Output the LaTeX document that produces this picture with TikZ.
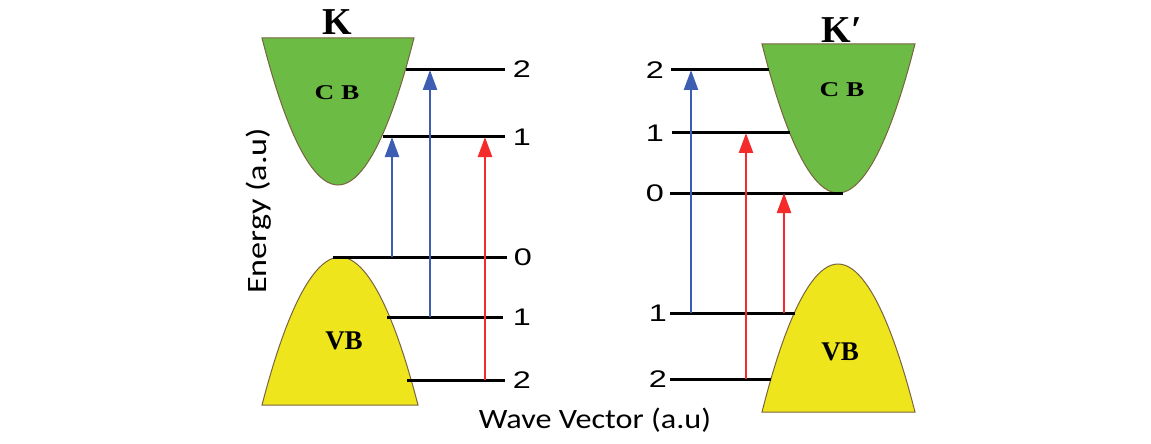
\documentclass[tikz,border=0pt]{standalone}
\usepackage{fontspec}
\setmainfont{Liberation Sans}
\newfontfamily\digitfont[FakeStretch=1.35]{Liberation Sans}
\newfontfamily\valleyfont{Liberation Serif Bold}
\newfontfamily\cbfont[FakeStretch=1.3]{Liberation Serif Bold}
\newfontfamily\wavefont[FakeStretch=1.15]{Carlito}
\newfontfamily\energyfont[FakeStretch=1.22]{Carlito}
\usetikzlibrary{arrows.meta}
\definecolor{cbfill}{HTML}{6CBB45}
\definecolor{vbfill}{HTML}{EEE51C}
\definecolor{bandline}{HTML}{7A6440}
\definecolor{upblue}{HTML}{3D5DB3}
\definecolor{upred}{HTML}{F52A2A}
\tikzset{
  cbband/.style={fill=cbfill, draw=bandline, line width=0.5pt},
  vbband/.style={fill=vbfill, draw=bandline, line width=0.5pt},
  level/.style={draw=black, line width=1.5pt},
  levellabel/.style={font=\digitfont\fontsize{12}{13}\selectfont, inner sep=0pt},
  valley/.style={font=\valleyfont\fontsize{19}{20}\selectfont, inner sep=0pt},
  cbname/.style={font=\cbfont\fontsize{10.5}{11}\selectfont, inner sep=0pt},
  vbname/.style={font=\valleyfont\fontsize{13.5}{14}\selectfont, inner sep=0pt},
  upjump/.style={-{Triangle[length=10pt, width=7pt]}, line width=1.25pt},
  bluejump/.style={upjump, draw=upblue},
  redjump/.style={upjump, draw=upred}
}
\begin{document}
\begin{tikzpicture}[x=0.5pt, y=-0.5pt]
\useasboundingbox (0,0) rectangle (1151,444);

% K valley
\draw[cbband] (262,38) parabola bend (338,185) (414,38) -- cycle;
\draw[vbband] (262,405) parabola bend (340,257) (418,405) -- cycle;
\node[valley] (kname) at (337,22) {K};
\node[cbname] (kcb) at (337,93) {C B};
\node[vbname] (kvb) at (344,341) {VB};

\draw[level] (406,70) -- (505,70);
\draw[level] (383,137) -- (505,137);
\draw[level] (333,257) -- (507,257);
\draw[level] (387,317) -- (503,317);
\draw[level] (407,380) -- (505,380);
\node[levellabel] (kc2) at (522,69) {2};
\node[levellabel] (kc1) at (522,137) {1};
\node[levellabel] (kv0) at (523,257) {0};
\node[levellabel] (kv1) at (522,317) {1};
\node[levellabel] (kv2) at (522,380) {2};

\draw[bluejump] (392,257) -- (392,137);
\draw[bluejump] (430,317) -- (430,70);
\draw[redjump] (485,380) -- (485,137);

% K' valley
\draw[cbband] (762,44) parabola bend (838,193) (915,44) -- cycle;
\draw[vbband] (762,412) parabola bend (838,264) (915,412) -- cycle;
\node[valley] (kpname) at (842,30) {K′};
\node[cbname] (kpcb) at (842,90) {C B};
\node[vbname] (kpvb) at (840,352) {VB};

\draw[level] (671,70) -- (769,70);
\draw[level] (672,133) -- (790,133);
\draw[level] (670,193) -- (843,193);
\draw[level] (670,313) -- (795,313);
\draw[level] (670,379) -- (771,379);
\node[levellabel] (kpc2) at (655,70) {2};
\node[levellabel] (kpc1) at (655,133) {1};
\node[levellabel] (kpc0) at (655,193) {0};
\node[levellabel] (kpv1) at (658,313) {1};
\node[levellabel] (kpv2) at (658,379) {2};

\draw[bluejump] (691,313) -- (691,70);
\draw[redjump] (746,379) -- (746,133);
\draw[redjump] (784,313) -- (784,193);

% axes
\node[font=\energyfont\fontsize{14}{15}\selectfont, inner sep=0pt, rotate=90] (energy) at (259,211) {Energy (a.u)};
\node[font=\wavefont\fontsize{14}{15}\selectfont, inner sep=0pt] (wave) at (595,420) {Wave Vector (a.u)};
\end{tikzpicture}
\end{document}
